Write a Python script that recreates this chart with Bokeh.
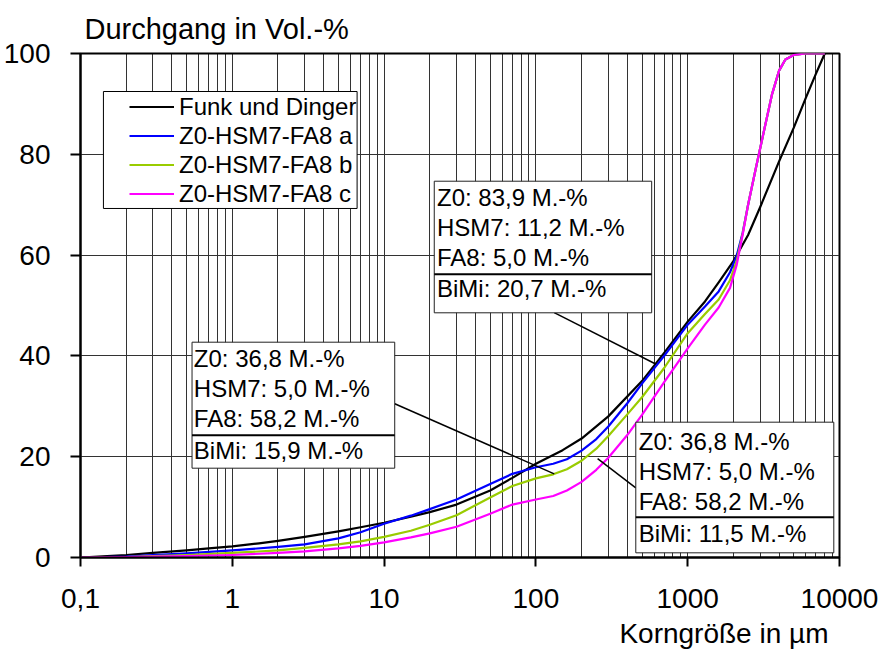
from bokeh.plotting import figure
from bokeh.models import (FixedTicker, CustomJSTickFormatter, Legend, LegendItem,
                          Title, ColumnDataSource, Range1d)
from bokeh.core.properties import value
from bokeh.embed import file_html
from bokeh.resources import INLINE

# ---------------- data ----------------
x_funk = [0.1, 0.15, 0.2, 0.3, 0.5, 0.7, 1, 1.5, 2, 3, 5, 7, 10, 15, 20, 30, 50, 70, 100,
          150, 200, 300, 500, 700, 1000, 1300, 1600, 2000, 2500, 3000, 4000, 5000, 6000,
          7000, 8000]
y_funk = [0, 0.3, 0.5, 0.9, 1.4, 1.8, 2.2, 2.8, 3.3, 4.1, 5.2, 6.0, 6.9, 8.1, 9.0, 10.5,
          13.3, 15.8, 18.6, 21.3, 23.6, 28.0, 35.0, 40.6, 46.8, 50.8, 54.6, 58.8, 64.0,
          69.5, 78.6, 85.3, 91.2, 96.0, 100]

x_mix = [0.1, 0.2, 0.3, 0.5, 1, 2, 3, 5, 7, 10, 15, 20, 30, 50, 70, 100, 130, 160, 200,
         250, 300, 400, 500, 700, 1000, 1300, 1600, 1900, 2100, 2300, 2500, 2800, 3200,
         3600, 4000, 4400, 5000, 6000, 8000]
y_a = [0, 0.2, 0.5, 0.8, 1.4, 2.1, 2.6, 3.8, 5.0, 6.7, 8.3, 9.6, 11.5, 14.6, 16.6, 17.9,
       18.6, 19.5, 21.2, 23.5, 26.0, 30.6, 34.5, 40.0, 46.2, 49.8, 52.8, 56.6, 59.8,
       64.4, 70.0, 77.0, 85.0, 92.0, 96.6, 98.8, 99.7, 100, 100]
y_b = [0, 0.1, 0.3, 0.5, 0.9, 1.4, 1.9, 2.6, 3.2, 4.1, 5.3, 6.5, 8.4, 11.9, 14.2, 15.7,
       16.5, 17.5, 19.2, 21.6, 24.1, 28.4, 31.8, 37.6, 44.5, 48.3, 51.2, 55.0, 58.8,
       64.2, 70.0, 77.0, 85.0, 92.0, 96.6, 98.8, 99.7, 100, 100]
y_c = [0, 0.1, 0.2, 0.3, 0.5, 0.9, 1.2, 1.8, 2.3, 3.0, 4.0, 4.8, 6.1, 8.7, 10.5, 11.5,
       12.2, 13.3, 15.0, 17.4, 19.8, 24.3, 28.3, 34.8, 41.5, 46.2, 49.6, 53.5, 58.0,
       64.0, 70.0, 77.0, 85.0, 92.0, 96.6, 98.8, 99.7, 100, 100]

series_names = ["Funk und Dinger", "Z0-HSM7-FA8 a", "Z0-HSM7-FA8 b", "Z0-HSM7-FA8 c"]
series_colors = ["#000000", "#0000FF", "#99CC00", "#FF00FF"]

x_ticks = [0.1, 1, 10, 100, 1000, 10000]
x_minor = [m * d for d in [0.1, 1, 10, 100, 1000] for m in range(2, 10)]
y_ticks = [0, 20, 40, 60, 80, 100]

box1_lines = ["Z0: 83,9 M.-%", "HSM7: 11,2 M.-%", "FA8: 5,0 M.-%", "BiMi: 20,7 M.-%"]
box2_lines = ["Z0: 36,8 M.-%", "HSM7: 5,0 M.-%", "FA8: 58,2 M.-%", "BiMi: 15,9 M.-%"]
box3_lines = ["Z0: 36,8 M.-%", "HSM7: 5,0 M.-%", "FA8: 58,2 M.-%", "BiMi: 11,5 M.-%"]

FONT = "Liberation Sans"

# ---------------- figure ----------------
p = figure(width=882, height=655, x_axis_type="log",
           x_range=Range1d(0.1, 10000), y_range=Range1d(0, 100),
           output_backend="svg", toolbar_location=None,
           min_border_left=79, min_border_right=43, min_border_top=53, min_border_bottom=98,
           background_fill_color="white", border_fill_color="white")

p.outline_line_color = "black"
p.outline_line_width = 2

p.title.text = "Durchgang in Vol.-%"
p.title.align = "left"
p.title.offset = 4
p.title.standoff = 17
p.title.text_font = FONT
p.title.text_font_size = "29px"
p.title.text_font_style = "normal"
p.title.text_color = "black"

xlab = Title(text="Korngröße in µm", align="right", offset=11, standoff=10,
             text_font=FONT, text_font_size="28px", text_font_style="normal",
             text_color="black")
p.add_layout(xlab, "below")

xt = FixedTicker(ticks=x_ticks, minor_ticks=x_minor)
p.xaxis.ticker = xt
p.xgrid.ticker = xt
p.xaxis.formatter = CustomJSTickFormatter(code="return tick.toString().replace('.', ',');")
p.yaxis.ticker = FixedTicker(ticks=y_ticks)
p.ygrid.ticker = FixedTicker(ticks=[20, 40, 60, 80])

for ax in (p.xaxis[0], p.yaxis[0]):
    ax.axis_line_width = 2
    ax.axis_line_color = "black"
    ax.major_tick_line_color = "black"
    ax.major_tick_line_width = 2
    ax.major_tick_in = 0
    ax.minor_tick_in = 0
    ax.minor_tick_out = 0
    ax.major_label_text_font = FONT
    ax.major_label_text_font_size = "28px"
    ax.major_label_text_color = "black"
p.xaxis.major_tick_out = 9
p.yaxis.major_tick_out = 10
p.xaxis.major_label_standoff = 22
p.yaxis.major_label_standoff = 20

p.xgrid.grid_line_color = "#000000"
p.xgrid.grid_line_alpha = 0.8
p.xgrid.grid_line_width = 1
p.xgrid.minor_grid_line_color = "#000000"
p.xgrid.minor_grid_line_alpha = 0.8
p.xgrid.minor_grid_line_width = 1
p.ygrid.grid_line_color = "#333333"
p.ygrid.grid_line_width = 1

# legend frame (drawn behind the curves, hides the grid)
p.quad(left=[0.1416], right=[6.64], top=[92.46], bottom=[69.25],
       fill_color="white", line_color="black", line_width=1)

# ---------------- curves ----------------
renderers = []
for xs, ys, col in [(x_funk, y_funk, series_colors[0]), (x_mix, y_a, series_colors[1]),
                    (x_mix, y_b, series_colors[2]), (x_mix, y_c, series_colors[3])]:
    r = p.line(xs, ys, line_color=col, line_width=2.2, line_join="round")
    renderers.append(r)

legend = Legend(items=[LegendItem(label=n, renderers=[r]) for n, r in zip(series_names, renderers)],
                location=(49, 349), padding=0, spacing=0, margin=0,
                glyph_width=45, glyph_height=29, label_height=29, label_standoff=5,
                label_text_font=FONT, label_text_font_size="24px", label_text_color="black",
                border_line_alpha=0, background_fill_alpha=0)
p.add_layout(legend)

# ---------------- annotation boxes ----------------
p.segment(x0=[132, 11.75, 255], y0=[48.6, 30.5, 19.6],
          x1=[615, 132, 455], y1=[38.4, 16.6, 13.8],
          line_color="black", line_width=1.5)

boxes = [
    dict(l=21.4, r=579, t=74.66, b=48.55, sep=56.2, tx=22.3, ys=[71.43, 65.48, 59.52, 53.37], lines=box1_lines),
    dict(l=0.543, r=11.75, t=42.72, b=17.72, sep=24.27, tx=0.558, ys=[39.49, 33.53, 27.58, 21.29], lines=box2_lines),
    dict(l=455, r=9173, t=26.85, b=0.93, sep=8.0, tx=476, ys=[22.96, 16.99, 11.05, 4.76], lines=box3_lines),
]
for bx in boxes:
    p.quad(left=[bx["l"]], right=[bx["r"]], top=[bx["t"]], bottom=[bx["b"]],
           fill_color="white", line_color="#222222", line_width=1)
    p.segment(x0=[bx["l"]], y0=[bx["sep"]], x1=[bx["r"]], y1=[bx["sep"]],
              line_color="black", line_width=2)
    src = ColumnDataSource(dict(x=[bx["tx"]] * 4, y=bx["ys"], text=bx["lines"]))
    p.text(x="x", y="y", text="text", source=src, text_font=value(FONT),
           text_font_size="24px", text_color="black", text_align="left",
           text_baseline="alphabetic")

open("out.html", "w").write(file_html(p, INLINE))
